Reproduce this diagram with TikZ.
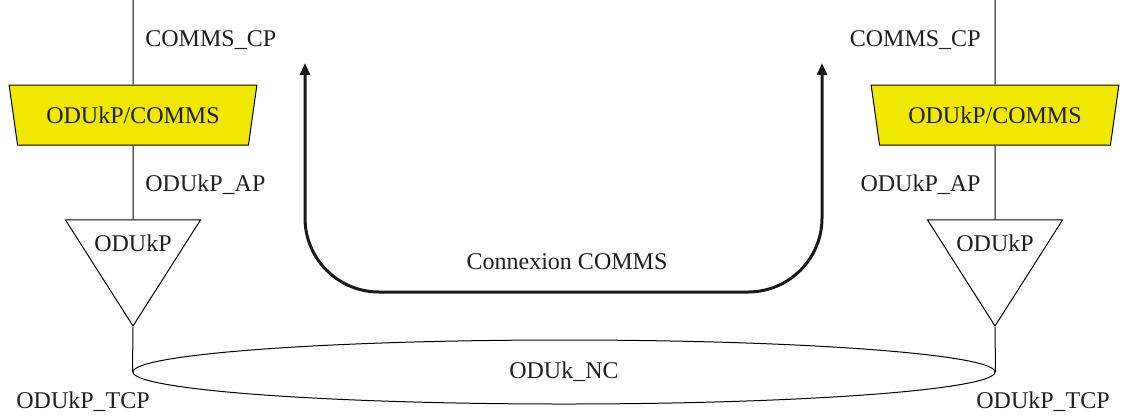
\documentclass[tikz,border=0pt]{standalone}
\usepackage{fontspec}
\setmainfont{Liberation Serif}
\usetikzlibrary{arrows.meta,positioning,calc,shapes.geometric}
\definecolor{adaptyellow}{RGB}{240,232,0}
\definecolor{inktext}{RGB}{30,30,30}

\begin{document}
\begin{tikzpicture}[
  x=0.5pt, y=-0.5pt,
  font=\fontsize{12}{14}\selectfont,
  every node/.style={text=inktext},
  adapt/.style={
    trapezium,
    trapezium left angle=110.6,
    trapezium right angle=110.6,
    trapezium stretches=true,
    minimum width=124.5pt,
    minimum height=30pt,
    inner sep=0pt,
    draw=black,
    line width=.5pt,
    fill=adaptyellow
  },
  termsink/.style={
    isosceles triangle,
    isosceles triangle stretches,
    shape border rotate=270,
    minimum width=67.5pt,
    minimum height=53pt,
    inner sep=0pt,
    draw=black,
    line width=.5pt
  },
  netconn/.style={ellipse, draw=black, line width=.5pt,
    minimum width=431pt, minimum height=32pt, inner sep=0pt},
  wire/.style={draw=black, line width=.5pt},
  commlink/.style={{Triangle[length=6pt,width=5pt]}-{Triangle[length=6pt,width=5pt]},
    draw=black!90, line width=1.5pt, rounded corners=37pt},
  ptlabel/.style={inner sep=0pt}
]
\useasboundingbox (0,0) rectangle (1128,419);

% left side
\coordinate (topL) at (133,0);
\node[adapt] (adaptL) at (133,115) {ODUkP/COMMS};
\node[termsink] (sinkL) at (133,257) {};
\node[ptlabel] (sinkL-txt) at (133,243) {ODUkP};

% right side
\coordinate (topR) at (995,0);
\node[adapt] (adaptR) at (995,115) {ODUkP/COMMS};
\node[termsink] (sinkR) at (995,257) {};
\node[ptlabel] (sinkR-txt) at (995,243) {ODUkP};

% network connection
\node[netconn] (nc) at (564,372) {ODUk\_NC};

\draw[wire] (topL) -- (adaptL.north);
\draw[wire] (adaptL.south) -- (sinkL.north);
\draw[wire] (sinkL.apex) -- (nc.west);
\draw[wire] (topR) -- (adaptR.north);
\draw[wire] (adaptR.south) -- (sinkR.north);
\draw[wire] (sinkR.apex) -- (nc.east);

% point labels
\node[ptlabel, anchor=west] (cpL) at (145,40) {COMMS\_CP};
\node[ptlabel, anchor=west] (apL) at (145,185) {ODUkP\_AP};
\node[ptlabel, anchor=west] (tcpL) at (16,402) {ODUkP\_TCP};
\node[ptlabel, anchor=east] (cpR) at (981,40) {COMMS\_CP};
\node[ptlabel, anchor=east] (apR) at (981,185) {ODUkP\_AP};
\node[ptlabel, anchor=west] (tcpR) at (976,402) {ODUkP\_TCP};

% COMMS connection
\coordinate (linkL) at (305,63);
\coordinate (linkR) at (822,63);
\coordinate (linkB) at (564,292);
\draw[commlink] (linkL) |- (linkB) -| (linkR);
\node[ptlabel] (link-txt) at (567,262) {Connexion COMMS};
\end{tikzpicture}
\end{document}
